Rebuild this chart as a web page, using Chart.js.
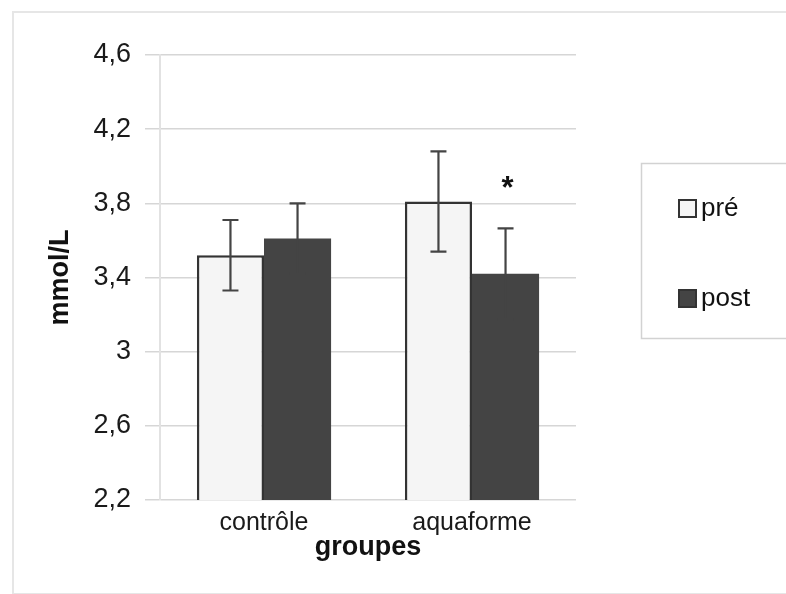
<!DOCTYPE html>
<html lang="fr">
<head>
<meta charset="utf-8">
<title>mmol/L par groupe</title>
<script src="https://cdn.jsdelivr.net/npm/chart.js@4.4.1/dist/chart.umd.min.js"></script>
<style>
  html, body { margin: 0; padding: 0; background: #fff; overflow: hidden; }
  #wrap { position: relative; width: 786px; height: 594px; }
  #frame { position: absolute; left: 12px; top: 11px; width: 800px; height: 580px; border: 2px solid #e6e6e6; pointer-events: none; }
  canvas { position: absolute; left: 0; top: 0; }
</style>
</head>
<body>
<div id="wrap">
  <div id="frame"></div>
  <canvas id="chart" width="786" height="594"></canvas>
</div>
<script>
/* ---------- data ---------- */
const categories = ['contrôle', 'aquaforme'];
const seriesNames = ['pré', 'post'];
const preValues = [3.52, 3.81];
const postValues = [3.61, 3.42];
const preErrors = [0.19, 0.27];
const postErrors = [0.19, 0.245];
const preMarks = ['', ''];
const postMarks = ['', '*'];
const yTickValues = [2.2, 2.6, 3.0, 3.4, 3.8, 4.2, 4.6];
const yTickLabels = ['2,2', '2,6', '3', '3,4', '3,8', '4,2', '4,6'];

const FONT = '"Liberation Sans", Arial, sans-serif';
const PRE_FILL = '#f5f5f5';
const POST_FILL = '#444';
const EDGE = '#333';

/* ---------- error bars + significance mark ---------- */
const errorBars = {
  id: 'errorBars',
  afterDatasetsDraw(chart) {
    const { ctx } = chart;
    const y = chart.scales.y;
    ctx.save();
    ctx.strokeStyle = '#444';
    ctx.lineWidth = 2.2;
    chart.data.datasets.forEach((ds, i) => {
      chart.getDatasetMeta(i).data.forEach((bar, j) => {
        const v = ds.data[j];
        const e = ds.errors[j];
        const top = y.getPixelForValue(v + e);
        const bot = y.getPixelForValue(v - e);
        ctx.beginPath();
        ctx.moveTo(bar.x, top); ctx.lineTo(bar.x, bot);
        ctx.moveTo(bar.x - 8, top); ctx.lineTo(bar.x + 8, top);
        ctx.moveTo(bar.x - 8, bot); ctx.lineTo(bar.x + 8, bot);
        ctx.stroke();
        if (ds.marks[j]) {
          ctx.fillStyle = '#111';
          ctx.font = 'bold 31px ' + FONT;
          ctx.textAlign = 'center';
          ctx.textBaseline = 'alphabetic';
          ctx.fillText(ds.marks[j], bar.x + 2, top - 30);
        }
      });
    });
    ctx.restore();
  }
};

/* ---------- boxed legend on the right ---------- */
const boxLegend = {
  id: 'boxLegend',
  afterDraw(chart) {
    const { ctx } = chart;
    ctx.save();
    ctx.strokeStyle = '#d2d2d2';
    ctx.lineWidth = 1.5;
    ctx.strokeRect(641.5, 163.5, 200, 175);
    chart.data.datasets.forEach((ds, i) => {
      const cy = 208 + i * 90;
      ctx.fillStyle = ds.backgroundColor;
      ctx.fillRect(678, cy - 9, 19, 19);
      ctx.strokeStyle = EDGE;
      ctx.lineWidth = 2;
      ctx.strokeRect(679, cy - 8, 17, 17);
      ctx.fillStyle = '#111';
      ctx.font = '26px ' + FONT;
      ctx.textAlign = 'left';
      ctx.textBaseline = 'middle';
      ctx.fillText(ds.label, 701, cy + 1);
    });
    ctx.restore();
  }
};

new Chart(document.getElementById('chart'), {
  type: 'bar',
  data: {
    labels: categories,
    datasets: [
      { label: seriesNames[0], data: preValues, errors: preErrors, marks: preMarks,
        backgroundColor: PRE_FILL, borderColor: EDGE, borderWidth: 2.5 },
      { label: seriesNames[1], data: postValues, errors: postErrors, marks: postMarks,
        backgroundColor: POST_FILL, borderColor: POST_FILL, borderWidth: 0 }
    ]
  },
  options: {
    responsive: false,
    animation: false,
    categoryPercentage: 0.645,
    barPercentage: 1.0,
    layout: { padding: { left: 30, top: 55, right: 210, bottom: 30 } },
    plugins: { legend: { display: false }, tooltip: { enabled: false } },
    scales: {
      x: {
        grid: { display: false },
        border: { display: false },
        ticks: { color: '#1a1a1a', padding: 0, font: { family: FONT, size: 25 } },
        title: { display: true, text: 'groupes', color: '#111', padding: 0,
                 font: { family: FONT, size: 27, weight: 'bold' } },
        afterFit: s => { s.height = 64; }
      },
      y: {
        min: 2.2,
        max: 4.6,
        afterBuildTicks: s => { s.ticks = yTickValues.map(v => ({ value: v })); },
        grid: { color: '#d6d6d6', lineWidth: 1.5, drawTicks: true, tickLength: 15, tickColor: '#d6d6d6' },
        border: { display: true, color: '#e2e2e2', width: 2 },
        ticks: {
          color: '#1a1a1a', padding: 14, font: { family: FONT, size: 27 },
          callback: (v, i) => yTickLabels[i]
        },
        title: { display: true, text: 'mmol/L', color: '#111', padding: { top: 14, bottom: 0 },
                 font: { family: FONT, size: 27, weight: 'bold' } },
        afterFit: s => { s.width = 130; }
      }
    }
  },
  plugins: [errorBars, boxLegend]
});
</script>
</body>
</html>
